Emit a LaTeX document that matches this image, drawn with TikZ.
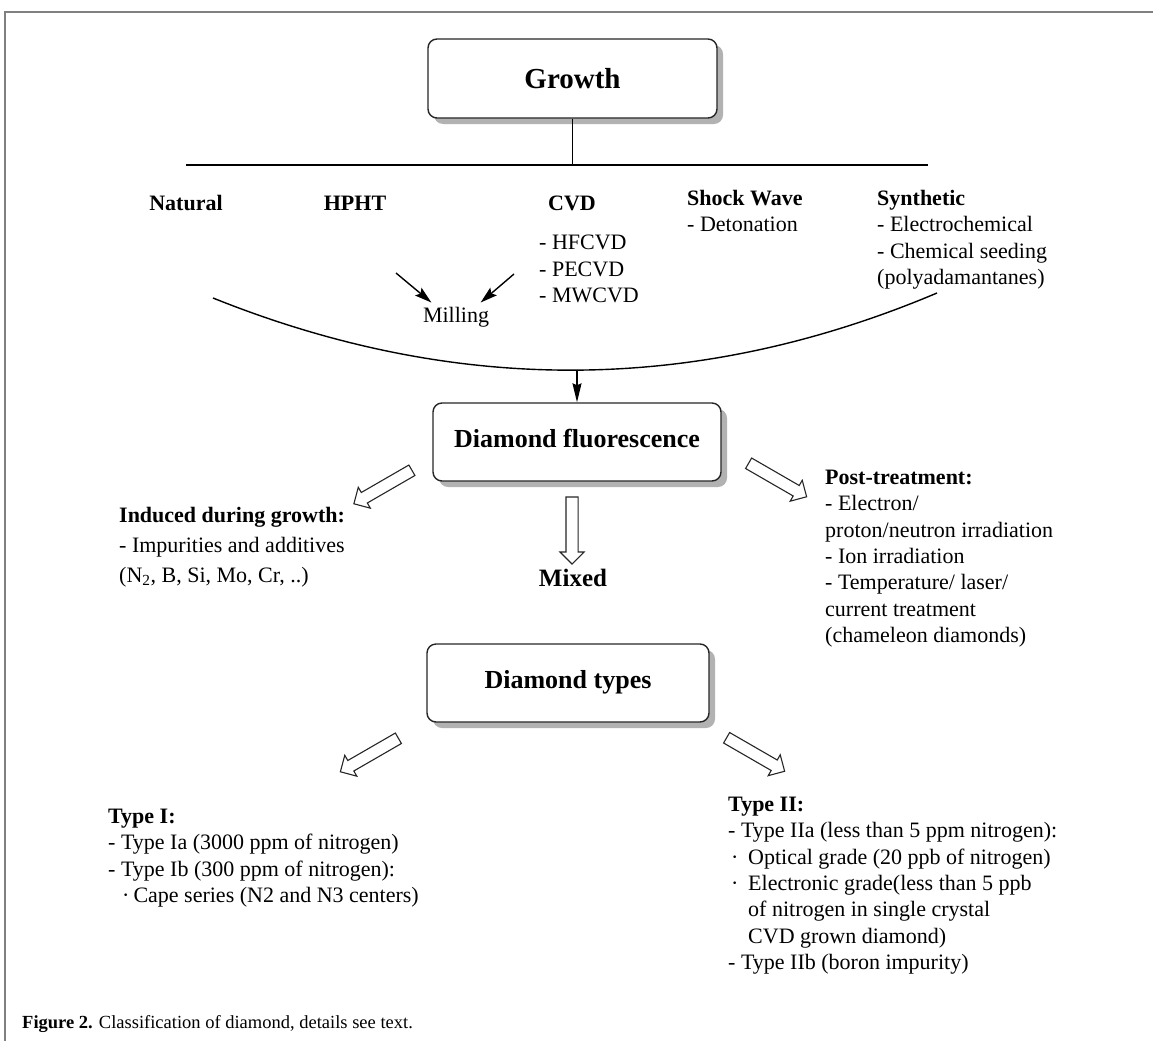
\documentclass[tikz,border=0pt]{standalone}
\usepackage{fontspec}
\setmainfont{Liberation Serif}
\usetikzlibrary{positioning,arrows.meta,shapes.arrows,shadows,calc}

\tikzset{
  box/.style={draw=black!85, line width=1.4pt, rounded corners=9pt, fill=white,
    font=\fontsize{26}{30}\selectfont\bfseries, minimum width=288pt, minimum height=78pt,
    text depth=8pt, drop shadow={shadow xshift=6pt, shadow yshift=-6pt, fill=black!30, opacity=1}},
  txt/.style={font=\fontsize{22}{26.3}\selectfont, align=left, anchor=north west, inner sep=0pt},
  hd/.style={font=\fontsize{22}{26}\selectfont\bfseries, anchor=base, inner sep=0pt},
  arr/.style={-{Stealth[length=17pt,width=10pt,inset=3pt]}, line width=1.4pt},
  hollow/.style={single arrow, draw=black!85, line width=1.1pt, fill=white, inner xsep=0pt,
    inner ysep=5.5pt, single arrow head extend=6pt, single arrow head indent=0pt, minimum height=67pt}
}

\begin{document}
\begin{tikzpicture}[x=1pt,y=-1pt]
\useasboundingbox (0,0) rectangle (1153,1041);
% Frame
\draw[gray, line width=1.5pt] (1153,12) -- (5,12) -- (5,1041);
% Growth and its branches
\node[box, minimum width=289pt, minimum height=79pt, text depth=0pt, font=\fontsize{29}{32}\selectfont\bfseries] (growth) at (572.5,78.5) {Growth};
\coordinate (barL) at (186,165);
\coordinate (barR) at (928,165);
\draw[line width=1.4pt] (barL) -- (barR);
\draw[line width=1.4pt] (growth.south) -- (growth.south |- barL);
\foreach \nm/\px in {Natural/186, HPHT/355, CVD/572} {
  \node[hd] (\nm) at (\px,210) {\nm};
}
\node[txt] (cvdlist) at (539,235) {- HFCVD\\- PECVD\\- MWCVD};
\node[txt] (shock) at (687,190) {\textbf{Shock Wave}\\- Detonation};
\node[txt] (synth) at (877,190) {\textbf{Synthetic}\\- Electrochemical\\- Chemical seeding\\(polyadamantanes)};
% Milling
\node[font=\fontsize{22}{26}\selectfont, anchor=base, inner sep=4pt] (milling) at (456,322) {Milling};
\coordinate (millL) at (396,273);
\coordinate (millR) at (514,274);
\draw[arr] (millL) -- (milling.150);
\draw[arr] (millR) -- (milling.30);
% Collecting arc
\coordinate (arcL) at (213,298);
\coordinate (arcR) at (937,293);
\coordinate (arcB) at (577,370);
\draw[line width=1.4pt] (arcL) .. controls (457,396) and (698,394) .. (arcR);
% Fluorescence
\node[box] (fluor) at (577,442) {Diamond fluorescence};
\draw[arr, -{Stealth[length=19pt,width=9pt,inset=2pt]}] (arcB) -- (fluor.north);
\node[txt, font=\fontsize{22}{30}\selectfont] (induced) at (119,507) {\textbf{Induced during growth:}\\- Impurities and additives\\(N\textsubscript{2}, B, Si, Mo, Cr, ..)};
\node[hd, font=\fontsize{25}{28}\selectfont\bfseries] (mixed) at (573,586) {Mixed};
\node[txt] (post) at (825,470) {\textbf{Post-treatment:}\\- Electron/\\proton/neutron irradiation\\- Ion irradiation\\- Temperature/ laser/\\current treatment\\(chameleon diamonds)};
% Types
\node[box, minimum width=282pt] (types) at (568,683) {Diamond types};
\node[txt] (typeI) at (108,809) {\textbf{Type I:}\\- Type Ia (3000 ppm of nitrogen)\\- Type Ib (300 ppm of nitrogen):\\\hspace*{14pt}·\hspace{4pt}Cape series (N2 and N3 centers)};
\node[txt] (typeII) at (728,797) {\textbf{Type II:}\\- Type IIa (less than 5 ppm nitrogen):\\\makebox[20pt][l]{\hspace*{3pt}·}Optical grade (20 ppb of nitrogen)\\\makebox[20pt][l]{\hspace*{3pt}·}Electronic grade(less than 5 ppb\\\hspace*{20pt}of nitrogen in single crystal\\\hspace*{20pt}CVD grown diamond)\\- Type IIb (boron impurity)};
% Hollow arrows
\foreach \nm/\px/\py/\ang in {arrGrow/385.5/485.5/210, arrMix/572/527.5/-90, arrPost/775/478.5/-30, arrTa/372/753.5/210, arrTb/753/753/-30} {
  \node[hollow, rotate=\ang] (\nm) at (\px,\py) {};
}
% Caption
\node[anchor=base west, inner sep=0pt, font=\fontsize{18.5}{21}\selectfont] (caption) at (22,1028) {\textbf{Figure 2.} Classification of diamond, details see text.};
\end{tikzpicture}
\end{document}
